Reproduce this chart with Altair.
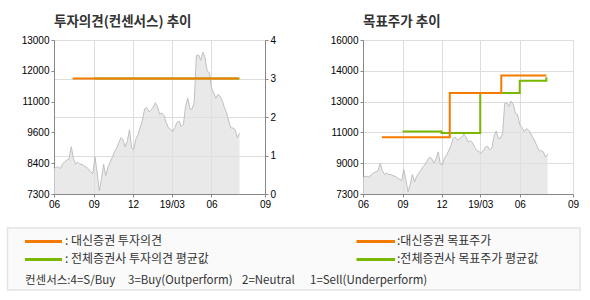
import altair as alt
import pandas as pd

# ---------------- data ----------------
price_start = "2018-06-01"
price_step = "5D"
price = [8225, 8290, 8300, 8240, 8420, 8500, 8560, 8600, 9050, 8620,
         8410, 8480, 8400, 8400, 8330, 8300, 8220, 8120, 8050, 8680,
         8080, 7420, 7850, 8400, 7980, 8290, 8480, 8650, 8850, 8990,
         9200, 9380, 9300, 9040, 9270, 9680, 9000, 8950, 9350, 9500,
         9780, 10030, 10450, 10500, 10340, 10420, 10520, 10680, 10520, 10250,
         10300, 10200, 9950, 9760, 9700, 9600, 9760, 9950, 10000, 9800,
         9880, 10550, 10850, 10450, 10440, 10700, 12420, 12450, 12250, 12550,
         12350, 11850, 11790, 11220, 11060, 10830, 10990, 10920, 10750, 10500,
         10300, 10000, 9750, 9740, 9680, 9380, 9550]

dae_opinion_dates = ["2018-07-14", "2019-08-03"]
dae_opinion = [3, 3]
avg_opinion_dates = ["2018-09-01", "2019-08-05"]
avg_opinion = [3, 3]

dae_target_dates = ["2018-07-15", "2018-12-20", "2019-04-19", "2019-08-02"]
dae_target = [10500, 13000, 14000, 14000]
avg_target_dates = ["2018-09-01", "2018-12-01", "2019-03-01", "2019-06-01", "2019-08-02"]
avg_target = [10830, 10750, 13000, 13700, 13900]

x_tick_dates = [(2018, 6, 1), (2018, 9, 1), (2018, 12, 1), (2019, 3, 1), (2019, 6, 1), (2019, 10, 3)]
x_tick_labels = ["06", "09", "12", "19/03", "06", "09"]

left_ticks = [7300, 8440, 9580, 10720, 11860, 13000]
left_labels = ["7300", "8400", "9600", "11000", "12000", "13000"]
cons_ticks = [0, 1, 2, 3, 4]
right_ticks = [7300, 9040, 10780, 12520, 14260, 16000]
right_labels = ["7300", "9000", "11000", "13000", "14000", "16000"]

title_left = "투자의견(컨센서스) 추이"
title_right = "목표주가 추이"
legend_left = [": 대신증권 투자의견", ": 전체증권사 투자의견 평균값"]
legend_right = [":대신증권 목표주가", ":전체증권사 목표주가 평균값"]
footnote_parts = ["컨센서스:4=S/Buy", "3=Buy(Outperform)", "2=Neutral", "1=Sell(Underperform)"]

# ---------------- style ----------------
ORANGE = "#f47b00"
GREEN = "#7ab800"
AREA = "#e0e0e0"
AREA_LINE = "#c0c0c0"
KFONT = "Noto Sans CJK KR"
NFONT = "Liberation Sans"


def map_expr(values, labels):
    parts = [f"datum.value == {v} ? '{l}'" for v, l in zip(values, labels)]
    return " : ".join(parts) + " : ''"


x_expr = " : ".join(
    f"time(datum.value) == time(datetime({y}, {m - 1}, {d})) ? '{l}'"
    for (y, m, d), l in zip(x_tick_dates, x_tick_labels)) + " : ''"
x_values = [alt.DateTime(year=y, month=m, date=d) for y, m, d in x_tick_dates]
x_domain = [x_values[0], x_values[-1]]


def xenc():
    return alt.X("date:T", title=None,
                 scale=alt.Scale(domain=x_domain, nice=False),
                 axis=alt.Axis(values=x_values, labelExpr=x_expr, grid=True,
                               labelFlush=False, tickSize=3, labelPadding=2))


def line_df(dates, vals, name="value"):
    return pd.DataFrame({"date": pd.to_datetime(dates), name: vals})


price_df = pd.DataFrame({"date": pd.date_range(price_start, periods=len(price), freq=price_step),
                         "price": price})

# ---------------- left chart ----------------
yL = alt.Y("price:Q", title=None,
           scale=alt.Scale(domain=[left_ticks[0], left_ticks[-1]], nice=False, zero=False),
           axis=alt.Axis(values=left_ticks, labelExpr=map_expr(left_ticks, left_labels),
                         grid=False, tickSize=3, labelPadding=2, labelFlush=False))
area_left = alt.Chart(price_df).mark_area(
    color=AREA, line={"color": AREA_LINE, "strokeWidth": 1}).encode(
    x=xenc(), y=yL, y2=alt.datum(left_ticks[0]))


def cons_y():
    return alt.Y("value:Q", title=None, scale=alt.Scale(domain=[0, 4], nice=False),
                 axis=alt.Axis(values=cons_ticks, grid=True, orient="right",
                               tickSize=3, labelPadding=2, labelFlush=False))


g_left = alt.Chart(line_df(avg_opinion_dates, avg_opinion)).mark_line(
    color=GREEN, strokeWidth=2, interpolate="step-after").encode(x=xenc(), y=cons_y())
o_left = alt.Chart(line_df(dae_opinion_dates, dae_opinion)).mark_line(
    color=ORANGE, strokeWidth=2, interpolate="step-after").encode(x=xenc(), y=cons_y())

title_params = dict(anchor="start", frame="group", font=KFONT, fontSize=13.5, fontWeight="bold",
                    color="#333333", offset=7)

left = alt.layer(area_left, alt.layer(g_left, o_left)).resolve_scale(y="independent").properties(
    width=211, height=154, title=alt.TitleParams(title_left, **title_params))

# ---------------- right chart ----------------


def yR():
    return alt.Y("price:Q", title=None,
                 scale=alt.Scale(domain=[right_ticks[0], right_ticks[-1]], nice=False, zero=False),
                 axis=alt.Axis(values=right_ticks, labelExpr=map_expr(right_ticks, right_labels),
                               grid=True, tickSize=3, labelPadding=2, labelFlush=False))


area_right = alt.Chart(price_df).mark_area(
    color=AREA, line={"color": AREA_LINE, "strokeWidth": 1}).encode(
    x=xenc(), y=yR(), y2=alt.datum(right_ticks[0]))
g_right = alt.Chart(line_df(avg_target_dates, avg_target, "price")).mark_line(
    color=GREEN, strokeWidth=2, interpolate="step-after").encode(x=xenc(), y=yR())
o_right = alt.Chart(line_df(dae_target_dates, dae_target, "price")).mark_line(
    color=ORANGE, strokeWidth=2, interpolate="step-after").encode(x=xenc(), y=yR())

right = alt.layer(area_right, g_right, o_right).properties(
    width=210, height=154, title=alt.TitleParams(title_right, **title_params))

# ---------------- legend panel ----------------
dummy = pd.DataFrame({"k": [0]})
base = alt.Chart(dummy)
BOX_L, BOX_R, BOX_H = -46.5, 526, 62
layers = [base.mark_rect(fill="#fafafa", stroke="#e3e3e3", strokeWidth=1.5).encode(
    x=alt.value(BOX_L), x2=alt.value(BOX_R), y=alt.value(0), y2=alt.value(BOX_H))]
rows_y = [13.5, 31.5]
cols = [(-29, 8, 11), (302.5, 341, 343)]
colors = [ORANGE, GREEN]
for (lx1, lx2, tx), labels in zip(cols, [legend_left, legend_right]):
    for yy, col, lab in zip(rows_y, colors, labels):
        layers.append(base.mark_rule(color=col, strokeWidth=3).encode(
            x=alt.value(lx1), x2=alt.value(lx2), y=alt.value(yy)))
        layers.append(base.mark_text(align="left", baseline="middle", font=KFONT, fontSize=12,
                                     color="#333333").encode(
            x=alt.value(tx), y=alt.value(yy - 0.5), text=alt.value(lab)))
foot_x = [-29, 74, 188, 256]
for fx, part in zip(foot_x, footnote_parts):
    layers.append(base.mark_text(align="left", baseline="middle", font=KFONT, fontSize=11.5,
                                 color="#333333").encode(
        x=alt.value(fx), y=alt.value(52.5), text=alt.value(part)))
legend_panel = alt.layer(*layers).properties(width=211, height=BOX_H,
                                              view=alt.ViewBackground(strokeOpacity=0))

chart = alt.concat(left, right, legend_panel, columns=2, bounds="flush",
                   spacing=alt.RowColnumber(row=34, column=98)).properties(
    padding={"left": 6, "top": 14, "right": 0, "bottom": 0}
).configure_view(stroke="#b4b4b4", strokeWidth=1).configure_axis(
    labelFont=NFONT, labelFontSize=11, labelColor="#666666",
    domainColor="#b4b4b4", tickColor="#b4b4b4", gridColor="#e6e6e6"
).configure(background="white")

chart.save("out.html", embed_options={"renderer": "svg", "actions": False})
